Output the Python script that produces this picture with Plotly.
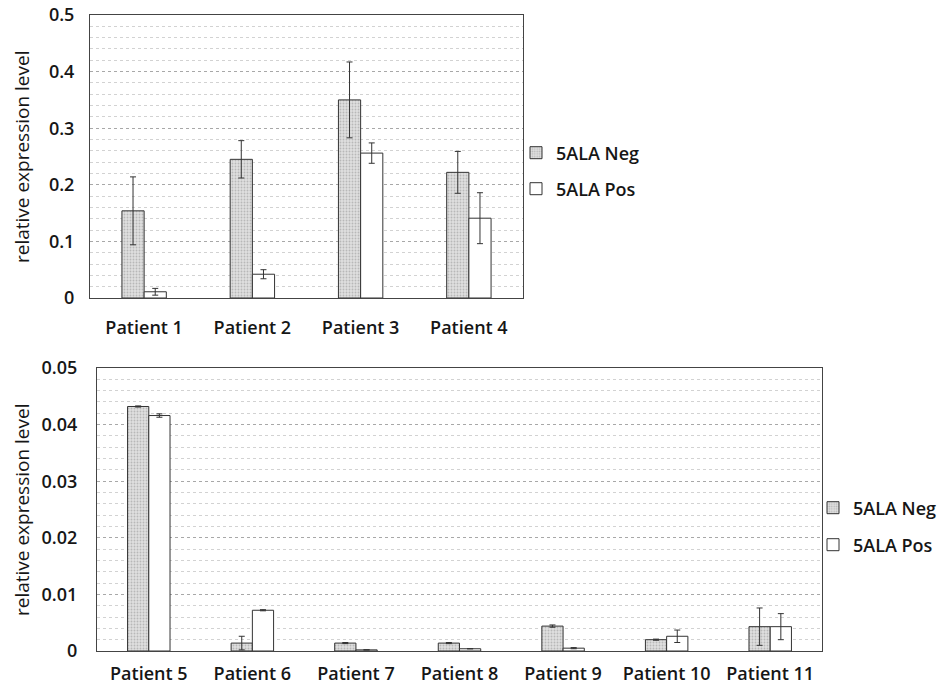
import plotly.graph_objects as go

# ---- data ----
top_patients = ["Patient 1", "Patient 2", "Patient 3", "Patient 4"]
top_neg = [0.154, 0.245, 0.350, 0.222]
top_neg_err = [0.060, 0.033, 0.067, 0.037]
top_pos = [0.011, 0.042, 0.256, 0.141]
top_pos_err = [0.006, 0.008, 0.018, 0.045]

bot_patients = ["Patient 5", "Patient 6", "Patient 7", "Patient 8",
                "Patient 9", "Patient 10", "Patient 11"]
bot_neg = [0.0432, 0.0014, 0.0014, 0.0014, 0.0044, 0.0020, 0.0043]
bot_neg_err = [0.0001, 0.0012, 0.0001, 0.0001, 0.0002, 0.0001, 0.0033]
bot_pos = [0.0416, 0.0072, 0.0002, 0.0004, 0.0005, 0.0026, 0.0043]
bot_pos_err = [0.0003, 0.0001, 0.0000, 0.0000, 0.0001, 0.0011, 0.0023]

series_names = ["5ALA Neg", "5ALA Pos"]
y_title = "relative expression level"

W, H = 939, 690
FONT = "Open Sans"
TXT = "#161616"

neg_marker = dict(color="#d6d6d6", line=dict(color="#333333", width=1),
                  pattern=dict(shape=".", fgcolor="#b8b8b8", bgcolor="#e0e0e0",
                               size=3, solidity=0.3))
pos_marker = dict(color="#ffffff", line=dict(color="#333333", width=1))
err_style = dict(type="data", color="#333333", thickness=1, width=3, visible=True)

fig = go.Figure()
fig.add_trace(go.Bar(x=top_patients, y=top_neg, name=series_names[0], marker=neg_marker,
                     error_y=dict(array=top_neg_err, **err_style),
                     xaxis="x", yaxis="y", legend="legend"))
fig.add_trace(go.Bar(x=top_patients, y=top_pos, name=series_names[1], marker=pos_marker,
                     error_y=dict(array=top_pos_err, **err_style),
                     xaxis="x", yaxis="y", legend="legend2"))
fig.add_trace(go.Bar(x=bot_patients, y=bot_neg, name=series_names[0], marker=neg_marker,
                     error_y=dict(array=bot_neg_err, **err_style),
                     xaxis="x2", yaxis="y2", legend="legend3"))
fig.add_trace(go.Bar(x=bot_patients, y=bot_pos, name=series_names[1], marker=pos_marker,
                     error_y=dict(array=bot_pos_err, **err_style),
                     xaxis="x2", yaxis="y2", legend="legend4"))


def px_x(v):
    return v / W


def px_y(v):
    return 1 - v / H


tickfont = dict(family=FONT, size=18, color=TXT, weight=600)

axis_common = dict(showline=True, linecolor="#444444", linewidth=1, mirror=True,
                   automargin=False, tickfont=tickfont)

xaxis_common = dict(axis_common, showgrid=False, ticks="", type="category")

yaxis_common = dict(axis_common, ticks="", zeroline=False, showgrid=True,
                    gridcolor="#a8a8a8", griddash="dot", gridwidth=1)

legend_common = dict(bgcolor="rgba(0,0,0,0)",
                     font=dict(family=FONT, size=18, color=TXT, weight=600),
                     xanchor="left", yanchor="middle", itemclick=False)

minor_grid = dict(showgrid=True, gridcolor="#d2d2d2", griddash="dot", gridwidth=1)

title_font = dict(family=FONT, size=19, color=TXT, weight=500)

fig.update_layout(
    template="none",
    width=W, height=H,
    margin=dict(l=0, r=0, t=0, b=0, autoexpand=False),
    paper_bgcolor="white", plot_bgcolor="white",
    barmode="group", bargap=0.59, bargroupgap=0.0,
    showlegend=True,
    xaxis=dict(xaxis_common, domain=[px_x(90), px_x(523)], anchor="y",
               ticklabelstandoff=13),
    yaxis=dict(yaxis_common, domain=[px_y(298), px_y(15)], anchor="x",
               range=[0, 0.5], dtick=0.1, ticklabelstandoff=11,
               minor=dict(minor_grid, dtick=0.02)),
    xaxis2=dict(xaxis_common, domain=[px_x(97), px_x(822)], anchor="y2",
                ticklabelstandoff=6),
    yaxis2=dict(yaxis_common, domain=[px_y(651), px_y(368)], anchor="x2",
                range=[0, 0.05], dtick=0.01, ticklabelstandoff=15,
                minor=dict(minor_grid, dtick=0.002)),
    legend=dict(legend_common, x=px_x(516), y=px_y(153)),
    legend2=dict(legend_common, x=px_x(516), y=px_y(189)),
    legend3=dict(legend_common, x=px_x(813), y=px_y(508)),
    legend4=dict(legend_common, x=px_x(813), y=px_y(545)),
    annotations=[
        dict(text=y_title, textangle=-90, xref="paper", yref="paper",
             x=px_x(22), y=px_y(157), xanchor="center", yanchor="middle",
             showarrow=False, font=title_font),
        dict(text=y_title, textangle=-90, xref="paper", yref="paper",
             x=px_x(22), y=px_y(510), xanchor="center", yanchor="middle",
             showarrow=False, font=title_font),
    ],
)

fig.write_html("out.html",
               config={"displayModeBar": False},
               post_script="document.body.style.margin='0';"
                           "document.body.style.overflow='hidden';")
